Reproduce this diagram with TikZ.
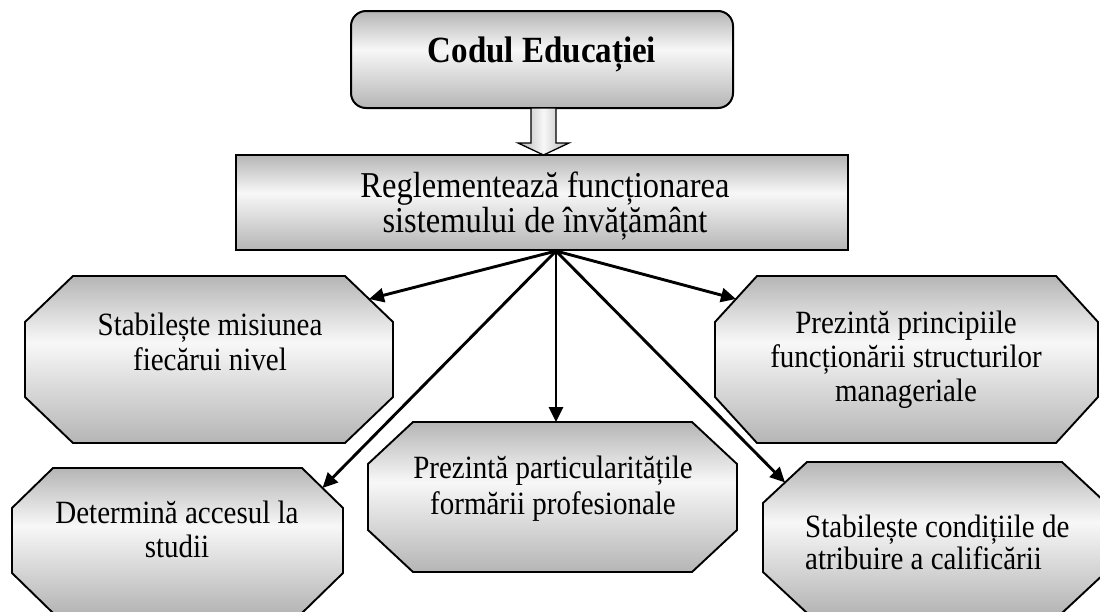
\documentclass[tikz,border=0pt]{standalone}
\usepackage{fontspec}
\setmainfont{Liberation Serif}
\usetikzlibrary{arrows.meta}
\definecolor{shd}{rgb}{0.71,0.71,0.71}
\definecolor{shl}{rgb}{0.97,0.97,0.97}
\pgfdeclareverticalshading{boxshade}{100bp}{color(0bp)=(shd); color(25bp)=(shd); color(55bp)=(shl); color(75bp)=(shd); color(100bp)=(shd)}
\newcommand\tallt[1]{\scalebox{1}[1.12]{#1}}
\newcommand\octbox[7]{%
  \path[octstyle] ({#2+#6},#3) -- ({#4-#6},#3) -- (#4,{#3+#7}) -- (#4,{#5-#7}) -- ({#4-#6},#5) -- ({#2+#6},#5) -- (#2,{#5-#7}) -- (#2,{#3+#7}) -- cycle;
  \coordinate (#1) at ({(#2+#4)/2},{(#3+#5)/2});
}
\begin{document}
\begin{tikzpicture}[x=1pt,y=-1pt,line join=miter,
  octstyle/.style={draw=black,line width=1.9pt,shading=boxshade},
  txt/.style={inner sep=0pt,anchor=base},
  conn/.style={line width=2.9pt,-{Triangle[length=15pt,width=14pt]}}]
\useasboundingbox (0,0) rectangle (1100,611);
\clip (0,0) rectangle (1100,611);
% top box
\node[draw,line width=2pt,rounded corners=15pt,shading=boxshade,minimum width=382pt,minimum height=97pt,inner sep=0pt] (cod) at (542,59.5) {};
\node[txt,font=\bfseries\fontsize{33}{38}\selectfont] (codt) at (542,62) {\tallt{Codul Educației}};
% block arrow
\path[draw,line width=1.3pt,left color=shd,right color=shd,middle color=shl]
  (531,108) -- (556,108) -- (556,143) -- (569,143) -- (543.5,155) -- (518,143) -- (531,143) -- cycle;
% middle rectangle
\node[draw,line width=2.2pt,shading=boxshade,minimum width=612pt,minimum height=95pt,inner sep=0pt] (reg) at (542,202.5) {};
\node[txt,font=\fontsize{32.5}{31.25}\selectfont] (regt) at (545,197) {\tallt{\begin{tabular}[t]{@{}c@{}}Reglementează funcționarea\\sistemului de învățământ\end{tabular}}};
\coordinate (hub) at (556,251);
% octagons
\octbox{oA}{25}{276}{393}{443}{48}{46}
\octbox{oB}{715}{276}{1098}{443}{42}{46}
\octbox{oC}{12}{468}{343}{613}{41}{40}
\octbox{oD}{368}{422}{737}{572}{45}{42}
\octbox{oE}{763}{462}{1106}{613}{44}{41}
\node[txt,font=\fontsize{29}{31.25}\selectfont] (tA) at (210,335) {\tallt{\begin{tabular}[t]{@{}c@{}}Stabilește misiunea\\fiecărui nivel\end{tabular}}};
\node[txt,font=\fontsize{29}{30.8}\selectfont] (tB) at (906,333) {\tallt{\begin{tabular}[t]{@{}c@{}}Prezintă principiile\\funcționării structurilor\\manageriale\end{tabular}}};
\node[txt,font=\fontsize{29}{30.4}\selectfont] (tC) at (177,523) {\tallt{\begin{tabular}[t]{@{}c@{}}Determină accesul la\\studii\end{tabular}}};
\node[txt,font=\fontsize{29}{33}\selectfont] (tD) at (553,478) {\tallt{\begin{tabular}[t]{@{}c@{}}Prezintă particularitățile\\formării profesionale\end{tabular}}};
\node[txt,anchor=base west,font=\fontsize{29}{27.7}\selectfont] (tE) at (805,537) {\tallt{\begin{tabular}[t]{@{}l@{}}Stabilește condițiile de\\atribuire a calificării\end{tabular}}};
% arrow ends
\coordinate (eA) at (369,299);
\coordinate (eB) at (736,299);
\coordinate (eC) at (322.5,488);
\coordinate (eD) at (556,422);
\coordinate (eE) at (785,482.5);
\draw[conn] (hub) -- (eA);
\draw[conn] (hub) -- (eB);
\draw[conn] (hub) -- (eC);
\draw[conn] (hub) -- (eD);
\draw[conn] (hub) -- (eE);
\end{tikzpicture}
\end{document}
